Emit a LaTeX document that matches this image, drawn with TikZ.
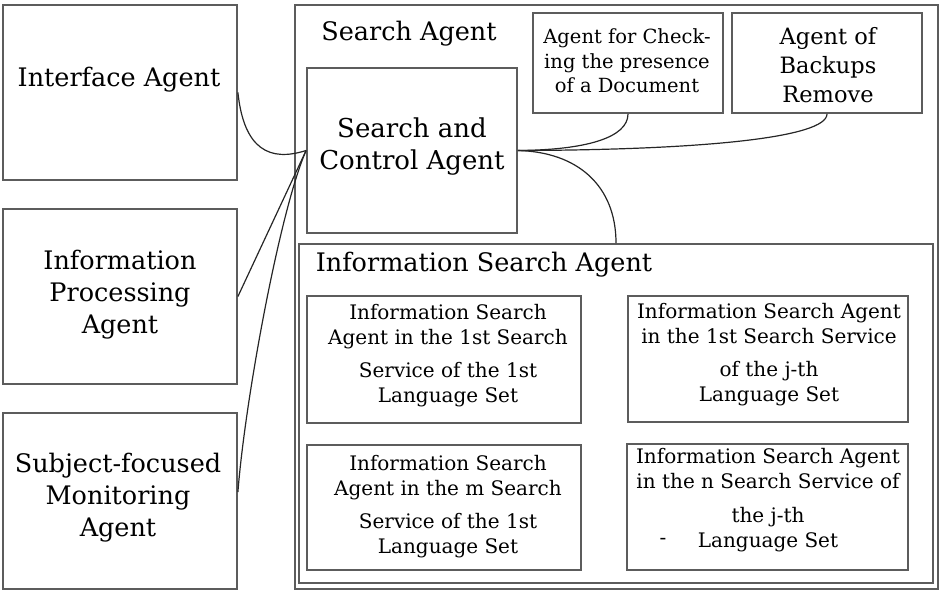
\documentclass[tikz,border=0pt]{standalone}
\usepackage{fontspec}
\setmainfont{DejaVu Serif}
\definecolor{boxgray}{gray}{0.36}
\begin{document}
\begin{tikzpicture}[x=1pt,y=-1pt,
  box/.style={draw=boxgray, line width=1.8pt, inner sep=0pt, fill=none},
  link/.style={draw=black!85, line width=1.2pt},
  big/.style={inner sep=0pt, align=center, font=\fontsize{25.5}{32}\selectfont},
  ctl/.style={inner sep=0pt, align=center, font=\fontsize{26}{32}\selectfont},
  chkf/.style={inner sep=0pt, align=center, font=\fontsize{19.5}{24.5}\selectfont},
  bakf/.style={inner sep=0pt, align=center, font=\fontsize{22.5}{29}\selectfont},
  subf/.style={inner sep=0pt, align=center, font=\fontsize{20}{25}\selectfont}]
\useasboundingbox (0,0) rectangle (944,595);
% boxes
\node[box, minimum width=234pt, minimum height=175pt] (ia) at (120,92.5) {};
\node[box, minimum width=234pt, minimum height=175pt] (ipa) at (120,296.5) {};
\node[box, minimum width=234pt, minimum height=176pt] (sfm) at (120,501) {};
\node[box, minimum width=643pt, minimum height=584pt] (sa) at (616.5,297) {};
\node[box, minimum width=210pt, minimum height=165pt] (sca) at (412,150.5) {};
\node[box, minimum width=190pt, minimum height=100pt] (chk) at (628,63) {};
\node[box, minimum width=190pt, minimum height=100pt] (bak) at (827,63) {};
\node[box, minimum width=634pt, minimum height=339pt] (isa) at (616,413.5) {};
\node[box, minimum width=274pt, minimum height=127pt] (s11) at (444,359.5) {};
\node[box, minimum width=280pt, minimum height=126pt] (s1j) at (768,359) {};
\node[box, minimum width=274pt, minimum height=125pt] (sm1) at (444,507.5) {};
\node[box, minimum width=281pt, minimum height=126pt] (snj) at (767.5,507) {};
% texts
\node[big] (tia) at (119,80) {Interface Agent};
\node[big] (tipa) at (120,295) {Information\\Processing\\Agent};
\node[big] (tsfm) at (118,498) {Subject-focused\\Monitoring\\Agent};
\node[big] (tsa) at (409,34) {Search Agent};
\node[ctl] (tsca) at (412,147) {Search and\\Control Agent};
\node[chkf] (tchk) at (627,61) {Agent for Check-\\ing the presence\\of a Document};
\node[bakf] (tbak) at (828,65) {Agent of\\Backups\\Remove};
\node[big] (tisa) at (484,265) {Information Search Agent};
\node[subf] (ts11) at (448,356) {Information Search\\Agent in the 1st Search\\[8pt]Service of the 1st\\Language Set};
\node[subf] (ts1j) at (769,355) {Information Search Agent\\in the 1st Search Service\\[8pt]of the j-th\\Language Set};
\node[subf] (tsm1) at (448,507) {Information Search\\Agent in the m Search\\[8pt]Service of the 1st\\Language Set};
\node[subf] (tsnj) at (768,500) {Information Search Agent\\in the n Search Service of\\[9pt]the j-th\\Language Set};
\node[subf] (tdash) at (663,541) {-};
% connectors
\coordinate (scin) at (sca.west);
\draw[link] (ia.east) .. controls (244,150) and (270,162) .. (scin);
\draw[link] (ipa.east) -- (scin);
\draw[link] ([yshift=9pt]sfm.east) .. controls (245,400) and (280,210) .. (scin);
\draw[link] (sca.east) .. controls (585,150) and (628,138) .. (chk.south);
\draw[link] (sca.east) .. controls (700,150) and (827,138) .. (bak.south);
\draw[link] (sca.east) .. controls (578,152) and (616,186) .. (isa.north);
\end{tikzpicture}
\end{document}
